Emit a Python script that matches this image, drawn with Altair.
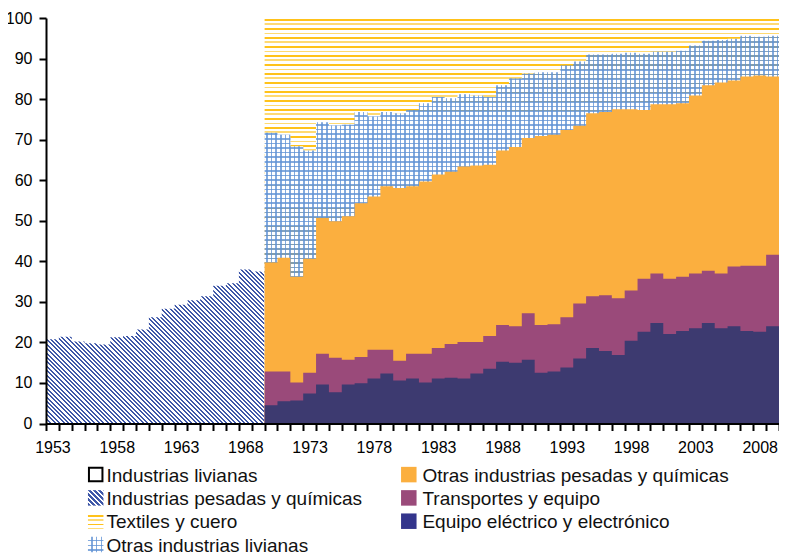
import altair as alt
import numpy as np
import pandas as pd

# ---------------- data (shares, %) ----------------
years_pre = list(range(1953, 1970))
pesadas_pre = [20.8, 21.4, 20.2, 19.8, 19.5, 21.3, 21.6, 23.2, 26.2, 28.3,
               29.3, 30.4, 31.4, 34.0, 34.6, 38.0, 37.5]

years_post = list(range(1970, 2010))
equipo = [4.5, 5.5, 5.7, 7.4, 9.6, 7.7, 9.6, 9.9, 11.1, 12.3,
          10.6, 11.1, 10.1, 11.1, 11.3, 11.1, 12.3, 13.5, 15.2, 15.0,
          15.7, 12.5, 12.8, 13.8, 16.0, 18.6, 17.9, 16.9, 20.4, 22.6,
          24.8, 22.1, 22.8, 23.5, 24.8, 23.5, 24.0, 22.8, 22.6, 24.0]
transportes = [8.3, 7.3, 4.4, 5.1, 7.6, 8.5, 6.1, 6.5, 7.1, 5.9,
               4.9, 6.1, 7.1, 7.5, 8.3, 9.0, 7.8, 8.1, 9.1, 9.0,
               11.5, 11.8, 11.7, 12.4, 13.6, 12.8, 13.7, 14.0, 12.4, 13.1,
               12.2, 13.6, 13.4, 13.5, 12.9, 13.5, 14.7, 16.1, 16.3, 17.6]
otras_pesadas = [26.9, 28.1, 26.1, 28.1, 33.5, 33.7, 35.4, 37.9, 37.8, 40.3,
                 42.6, 41.3, 42.5, 42.8, 42.5, 43.3, 43.5, 42.2, 43.0, 44.2,
                 43.2, 46.6, 46.7, 46.2, 43.8, 45.1, 45.2, 46.6, 44.7, 41.6,
                 41.7, 43.0, 42.8, 43.9, 45.7, 47.1, 45.9, 46.7, 46.9, 44.0]
otras_livianas = [32.0, 30.3, 32.2, 26.7, 23.6, 23.6, 22.6, 22.5, 19.7, 18.3,
                  18.4, 18.8, 19.3, 19.1, 18.1, 17.8, 17.3, 16.7, 16.1, 16.9,
                  15.9, 15.7, 15.4, 15.9, 15.9, 14.5, 14.2, 13.7, 13.9, 13.9,
                  13.0, 13.0, 12.9, 12.3, 11.0, 10.5, 10.3, 10.0, 9.6, 10.0]
textiles = [28.3, 28.8, 31.6, 32.7, 25.7, 26.5, 26.3, 23.2, 24.3, 23.2,
            23.5, 22.7, 21.0, 19.5, 19.8, 18.8, 19.1, 19.5, 16.6, 14.9,
            13.7, 13.4, 13.4, 11.7, 10.7, 9.0, 9.0, 8.8, 8.6, 8.8,
            8.3, 8.3, 8.1, 6.8, 5.6, 5.4, 5.1, 4.4, 4.6, 4.4]

legend_left = ["Industrias livianas", "Industrias pesadas y químicas",
               "Textiles y cuero", "Otras industrias livianas"]
legend_right = ["Otras industrias pesadas y químicas", "Transportes y equipo",
                "Equipo eléctrico y electrónico"]

x_ticks = list(range(1953, 2011))
y_ticks = list(range(0, 101, 10))

# ---------------- layout / style ----------------
X0, X1 = 1953, 2010
PAD_TOP = 10
W, H = 733, 405.5
PX_YEAR = W / (X1 - X0)
PX_UNIT = H / 100.0
FONT = "Liberation Sans"

DARK_BLUE = "#3D3A70"
LEGEND_BLUE = "#33358C"
PURPLE = "#9A4A7A"
ORANGE = "#FBAF3F"
HATCH = "#3F58A8"
GRID = "rgba(96,146,212,0.78)"
YEL1 = "#FFC21A"
YEL2 = "#FFDA72"
WHITE = "#ffffff"
CLEAR = "rgba(255,255,255,0)"


def GS(o, c):
    return alt.GradientStop(offset=round(float(o), 5), color=c)


def stripe_stops(extent, period, width, colors, bg, phase):
    stops = [GS(0, bg)]
    k = 0
    pos = phase
    while pos < extent:
        s = pos / extent
        e = min(pos + width, extent) / extent
        c = colors[k % len(colors)]
        stops += [GS(s, bg), GS(s, c), GS(e, c), GS(e, bg)]
        k += 1
        pos = phase + k * period
    stops.append(GS(1, bg))
    return stops


def hlines(extent, period, width, colors, bg, phase):
    return alt.LinearGradient(gradient="linear",
                              stops=stripe_stops(extent, period, width, colors, bg, phase),
                              x1=0, y1=0, x2=0, y2=1)


def vlines(extent, period, width, colors, bg, phase):
    return alt.LinearGradient(gradient="linear",
                              stops=stripe_stops(extent, period, width, colors, bg, phase),
                              x1=0, y1=0, x2=1, y2=0)


def diag(wb, hb, period, width, colors, bg, phase):
    t = (wb + hb) / (wb ** 2 + hb ** 2)
    return alt.LinearGradient(gradient="linear",
                              stops=stripe_stops(wb + hb, period, width, colors, bg, phase),
                              x1=0, y1=1, x2=round(wb * t, 5), y2=round(1 - hb * t, 5))


# ---------------- frames ----------------
def step_frame(years, tops):
    tops = [round(float(v), 3) for v in tops]
    yrs = list(years) + [years[-1] + 1]
    vals = tops + [tops[-1]]
    return pd.DataFrame({"year": yrs, "top": vals, "base": [0.0] * len(yrs)})


c1 = np.array(equipo)
c2 = c1 + np.array(transportes)
c3 = c2 + np.array(otras_pesadas)
c4 = c3 + np.array(otras_livianas)
c5 = c4 + np.array(textiles)

df_pre = step_frame(years_pre, pesadas_pre)
df_e = step_frame(years_post, c1)
df_t = step_frame(years_post, c2)
df_o = step_frame(years_post, c3)
df_l = step_frame(years_post, c4)
df_x = step_frame(years_post, c5)

x_axis = alt.Axis(values=x_ticks, format="d",
                  labelExpr="(datum.value - 1953) % 5 == 0 ? datum.label : ''",
                  labelOffset=PX_YEAR / 2, tickSize=7, tickWidth=2, tickColor="black",
                  domainColor="black", domainWidth=2, labelFontSize=16, labelColor="black",
                  labelFont=FONT, labelPadding=8.5, grid=False, title="",
                  labelOverlap=False, labelFlush=False, labelBound=False, zindex=1)
y_axis = alt.Axis(values=y_ticks, tickSize=7, tickWidth=2, tickColor="black",
                  domainColor="black", domainWidth=2, labelFontSize=16, labelColor="black",
                  labelFont=FONT, labelPadding=7, grid=False, title="", zindex=1)

XE = alt.X("year:Q", scale=alt.Scale(domain=[X0, X1], nice=False, zero=False), axis=x_axis)
YE = alt.Y("top:Q", scale=alt.Scale(domain=[0, 100], nice=False, zero=False), axis=y_axis)


def area(df, fill):
    return alt.Chart(df).mark_area(interpolate="step-after", fill=fill, opacity=1).encode(
        x=XE, y=YE, y2="base:Q")


post_w = len(years_post) * PX_YEAR
hatch_fill = diag(len(years_pre) * PX_YEAR, max(pesadas_pre) * PX_UNIT,
                  4.4, 2.0, [HATCH], WHITE, 0.0)
tex_fill = hlines(float(c5.max()) * PX_UNIT, 4.5, 1.6, [YEL1, YEL2], WHITE, 1.0)
grid_h_fill = hlines(float(c4.max()) * PX_UNIT, 4.6, 1.6, [GRID], WHITE, 1.0)
grid_v_fill = vlines(post_w, 4.6, 1.6, [GRID], CLEAR, 1.5)

main = alt.layer(
    area(df_pre, hatch_fill),
    area(df_x, tex_fill),
    area(df_l, grid_h_fill),
    area(df_l, grid_v_fill),
    area(df_o, ORANGE),
    area(df_t, PURPLE),
    area(df_e, DARK_BLUE),
)

# ---------------- legend ----------------
left_df = pd.DataFrame({"col": [0] * len(legend_left), "row": list(range(len(legend_left))),
                        "label": legend_left})
right_df = pd.DataFrame({"col": [1] * len(legend_right), "row": list(range(len(legend_right))),
                         "label": legend_right})

LX = alt.X("col:Q", scale=alt.Scale(domain=[0, 1], range=[49.7, 362.8], nice=False, zero=False),
           axis=None)
LY = alt.Y("row:Q", scale=alt.Scale(domain=[0, 3], range=[456.6, 526.5], nice=False, zero=False),
           axis=None)

S = 15.5

text_l = alt.Chart(left_df).mark_text(align="left", baseline="middle", dx=10.8, dy=1,
                                      fontSize=19, font=FONT, color="#111111").encode(
    x=LX, y=LY, text="label:N")
text_r = alt.Chart(right_df).mark_text(align="left", baseline="middle", dx=13.6, dy=1,
                                       fontSize=19, font=FONT, color="#111111").encode(
    x=LX, y=LY, text="label:N")

sym_light = alt.Chart(left_df.iloc[[0]]).mark_square(
    size=13.5 * 13.5, fill=WHITE, stroke="black", strokeWidth=2, opacity=1).encode(x=LX, y=LY)
sym_hatch = alt.Chart(left_df.iloc[[1]]).mark_square(
    size=S * S, fill=diag(S, S, 5.0, 2.2, [HATCH], WHITE, 0.5), opacity=1).encode(x=LX, y=LY)
sym_tex = alt.Chart(left_df.iloc[[2]]).mark_square(
    size=S * S, fill=hlines(S, 4.4, 1.6, [YEL1, YEL2], WHITE, 1.5), opacity=1).encode(x=LX, y=LY)
sym_grid_h = alt.Chart(left_df.iloc[[3]]).mark_square(
    size=S * S, fill=hlines(S, 4.8, 1.6, [GRID], WHITE, 3.0), opacity=1).encode(x=LX, y=LY)
sym_grid_v = alt.Chart(left_df.iloc[[3]]).mark_square(
    size=S * S, fill=vlines(S, 4.8, 1.6, [GRID], CLEAR, 3.0), opacity=1).encode(x=LX, y=LY)
sym_solid = alt.Chart(right_df).mark_square(size=S * S, opacity=1).encode(
    x=LX, y=LY,
    color=alt.Color("label:N", scale=alt.Scale(domain=legend_right,
                                               range=[ORANGE, PURPLE, LEGEND_BLUE]),
                    legend=None))

legend = alt.layer(text_l, text_r, sym_light, sym_hatch, sym_tex, sym_grid_h, sym_grid_v,
                   sym_solid)

chart = alt.layer(main, legend).resolve_scale(x="independent", y="independent").properties(
    width=W, height=H,
    autosize=alt.AutoSizeParams(type="none"),
    padding={"left": 38, "top": PAD_TOP, "right": 0, "bottom": 132},
).configure(font=FONT).configure_view(strokeWidth=0)

chart.save("out.html", embed_options={"renderer": "svg", "actions": False})
